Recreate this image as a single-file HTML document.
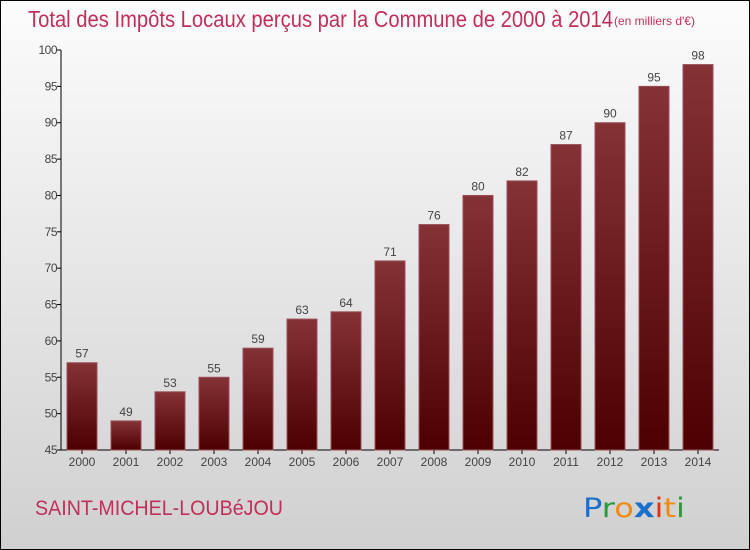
<!DOCTYPE html>
<html><head><meta charset="utf-8"><style>
html,body{margin:0;padding:0}
body{width:750px;height:550px;overflow:hidden;font-family:"Liberation Sans",sans-serif}
#frame{position:absolute;left:0;top:0;width:748px;height:548px;border:1px solid #000;background:linear-gradient(#fcfcfc,#d0d0d0)}
</style></head><body>
<div id="frame"></div>
<svg id="chart" width="750" height="550" style="position:absolute;left:0;top:0">
<defs><linearGradient id="bg" x1="0" y1="0" x2="0" y2="1"><stop offset="0" stop-color="#853236"/><stop offset="1" stop-color="#4d0000"/></linearGradient></defs>
<text x="28" y="27" font-size="23" fill="#c0305a" textLength="585" lengthAdjust="spacingAndGlyphs">Total des Impôts Locaux perçus par la Commune de 2000 à 2014</text>
<text x="614" y="25" font-size="12" fill="#c0305a">(en milliers d'€)</text>
<text x="35" y="515" font-size="21" fill="#c0305a" textLength="248" lengthAdjust="spacingAndGlyphs">SAINT-MICHEL-LOUBéJOU</text>
<text x="583" y="517" font-size="27" font-family="'DejaVu Sans',sans-serif" textLength="102" lengthAdjust="spacingAndGlyphs"><tspan fill="#1a6fcc">P</tspan><tspan fill="#2a9a3a">r</tspan><tspan fill="#f08a10">o</tspan><tspan fill="#1a6fcc" font-weight="bold">x</tspan><tspan fill="#e83010">i</tspan><tspan fill="#f08a10">t</tspan><tspan fill="#2a9a3a">i</tspan></text>
<g id="axes"></g><g id="bars"></g>
</svg>
<script>
const categories=["2000","2001","2002","2003","2004","2005","2006","2007","2008","2009","2010","2011","2012","2013","2014"];
const values=[57,49,53,55,59,63,64,71,76,80,82,87,90,95,98];
const yTicks=[45,50,55,60,65,70,75,80,85,90,95,100];
const yMin=45,yMax=100,yTop=50,base=450,x0=82,step=44,bw=30;
const NS="http://www.w3.org/2000/svg";
function y(v){return base-(v-yMin)/(yMax-yMin)*(base-yTop);}
function x(i){return x0+i*step;}
function mk(tag,attrs,parent,txt){const e=document.createElementNS(NS,tag);for(const k in attrs)e.setAttribute(k,attrs[k]);if(txt!=null)e.textContent=txt;parent.appendChild(e);return e;}
const ax=document.getElementById('axes'),bars=document.getElementById('bars');
let l=mk('line',{x1:61,y1:yTop,x2:61,y2:base,stroke:'#000','stroke-width':1},ax);


l=mk('line',{x1:61,y1:base,x2:719,y2:base,stroke:'#000','stroke-width':1},ax);


yTicks.forEach(t=>{
 const tk=mk('line',{x1:57,y1:y(t),x2:61,y2:y(t),stroke:'#000'},ax);
 
 
 const tl=mk('text',{x:57,y:y(t)+4,'font-size':12,fill:'#444','text-anchor':'end','letter-spacing':'-0.5'},ax,t);
 
 
});
categories.forEach((c,i)=>{
 const r=mk('rect',{x:x(i)-bw/2,y:y(values[i]),width:bw,height:base-y(values[i]),fill:'url(#bg)',stroke:'#9a5058','stroke-width':1},bars);
 
 
 const v=mk('text',{x:x(i),y:y(values[i])-5,'font-size':12,fill:'#444','text-anchor':'middle'},bars,values[i]);
 
 
 const xt=mk('line',{x1:x(i),y1:base,x2:x(i),y2:base+4,stroke:'#000'},ax);
 
 
 const xl=mk('text',{x:x(i),y:base+16,'font-size':12,fill:'#444','text-anchor':'middle'},ax,c);
 
 
});
</script>
</body></html>
